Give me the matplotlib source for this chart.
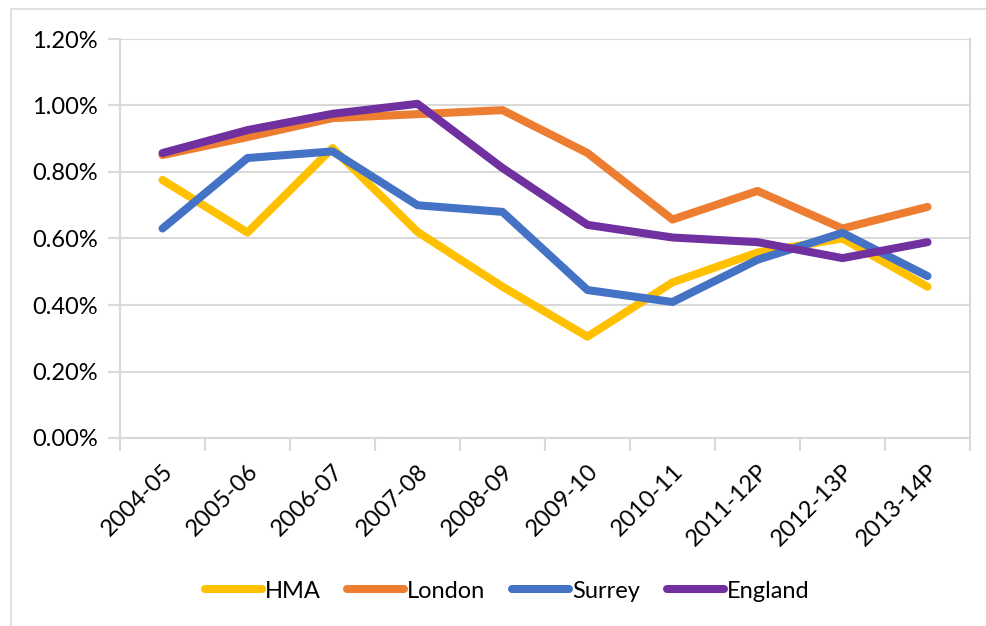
import matplotlib
matplotlib.use("Agg")
import matplotlib.pyplot as plt
from matplotlib.patches import Rectangle
from matplotlib.ticker import FuncFormatter, MultipleLocator

years = ["2004-05", "2005-06", "2006-07", "2007-08", "2008-09",
         "2009-10", "2010-11", "2011-12P", "2012-13P", "2013-14P"]

# values in percent
hma = [0.776, 0.618, 0.872, 0.620, 0.455, 0.305, 0.468, 0.558, 0.600, 0.455]
london = [0.851, 0.905, 0.962, 0.974, 0.986, 0.857, 0.657, 0.743, 0.630, 0.695]
surrey = [0.630, 0.842, 0.862, 0.700, 0.680, 0.445, 0.409, 0.536, 0.617, 0.487]
england = [0.857, 0.926, 0.975, 1.005, 0.812, 0.641, 0.603, 0.589, 0.541, 0.589]

names = ["HMA", "London", "Surrey", "England"]
colours = ["#FFC000", "#ED7D31", "#4472C4", "#7030A0"]

plt.rcParams['font.family'] = ['Lato', 'DejaVu Sans']

fig = plt.figure(figsize=(9.86, 6.26), dpi=100)
ax = fig.add_axes([120/986, 1-438/626, 850/986, 399/626])

# outer chart border
fig.patches.append(Rectangle((11/986, -0.1), 1.2, 1-9/626+0.1, transform=fig.transFigure,
                             fill=False, edgecolor="#D9D9D9", linewidth=1.2))

x = range(len(years))
for vals, name, col in zip([hma, london, surrey, england], names, colours):
    ax.plot(x, vals, color=col, linewidth=5.8, label=name,
            solid_capstyle="round", solid_joinstyle="round")

ax.set_xlim(-0.5, len(years)-0.5)
ax.set_ylim(0, 1.2)
ax.yaxis.set_major_locator(MultipleLocator(0.2))
ax.yaxis.set_major_formatter(FuncFormatter(lambda v, p: f"{v:.2f}%"))
ax.grid(axis="y", color="#D9D9D9", linewidth=1.5)
ax.set_axisbelow(True)

ax.set_xticks(list(x))
ax.set_xticklabels(years, rotation=45, ha="right", rotation_mode="anchor")
ax.set_xticks([i-0.5 for i in range(len(years)+1)], minor=True)
ax.tick_params(axis="x", which="major", length=0, labelsize=17, pad=16)
ax.tick_params(axis="x", which="minor", length=9, color="#D9D9D9", width=1.5)
ax.tick_params(axis="y", length=9, color="#D9D9D9", width=1.5, labelsize=17, pad=7)

ax.spines["top"].set_visible(False)
for s in ["left", "right", "bottom"]:
    ax.spines[s].set_color("#D9D9D9")
    ax.spines[s].set_linewidth(1.5)

ax.legend(loc="center", bbox_to_anchor=(507/986, 1-591/626), bbox_transform=fig.transFigure,
          ncol=4, frameon=False, fontsize=17, handlelength=2.4, handletextpad=0.12,
          columnspacing=1.15)

fig.savefig("out.png", dpi=100)
